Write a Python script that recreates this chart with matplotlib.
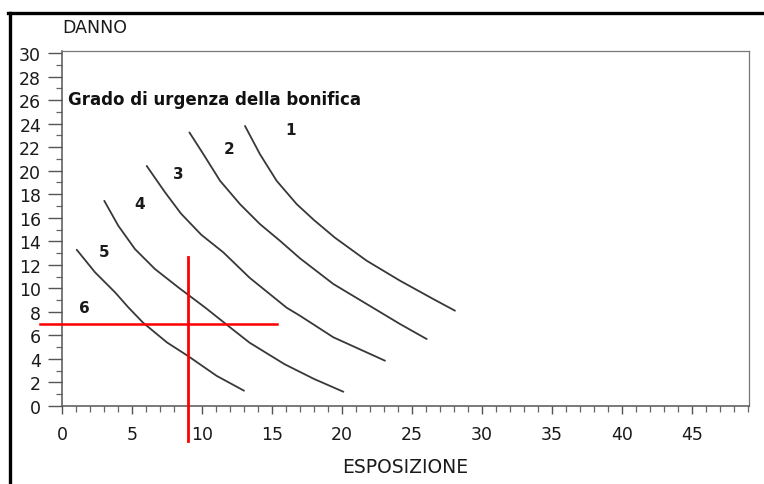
import matplotlib
matplotlib.use("Agg")
import matplotlib.pyplot as plt
from matplotlib.lines import Line2D
from matplotlib.ticker import MultipleLocator

plt.rcParams['font.family'] = ['DejaVu Sans']

# ---- data ----
curve_a_x = [1.05, 2.36, 3.79, 4.74, 5.8, 7.5, 9.0, 11.05, 13.0]
curve_a_y = [13.28, 11.36, 9.66, 8.38, 7.07, 5.4, 4.25, 2.56, 1.3]

curve_b_x = [3.02, 4.02, 5.21, 6.64, 8.31, 10.21, 12.2, 13.4, 15.9, 18.0, 20.1]
curve_b_y = [17.44, 15.32, 13.34, 11.64, 10.08, 8.38, 6.5, 5.38, 3.55, 2.3, 1.21]

curve_c_x = [6.05, 7.36, 8.5, 9.95, 11.52, 13.4, 16.05, 17.0, 19.38, 23.07]
curve_c_y = [20.4, 18.16, 16.35, 14.55, 13.06, 10.9, 8.35, 7.67, 5.84, 3.85]

curve_d_x = [9.1, 10.1, 11.29, 12.71, 14.14, 15.57, 17.0, 19.38, 21.76, 24.14, 26.05]
curve_d_y = [23.25, 21.4, 19.14, 17.16, 15.46, 14.04, 12.55, 10.37, 8.67, 6.97, 5.69]

curve_e_x = [13.07, 14.14, 15.33, 16.76, 18.0, 19.5, 21.76, 24.14, 26.52, 28.07]
curve_e_y = [23.8, 21.4, 19.14, 17.16, 15.8, 14.3, 12.35, 10.65, 9.09, 8.1]

curves = [(curve_a_x, curve_a_y), (curve_b_x, curve_b_y), (curve_c_x, curve_c_y),
          (curve_d_x, curve_d_y), (curve_e_x, curve_e_y)]

zone_labels = ['1', '2', '3', '4', '5', '6']
zone_label_x = [16.3, 11.95, 8.3, 5.57, 3.0, 1.57]
zone_label_y = [23.5, 21.9, 19.8, 17.2, 13.1, 8.4]

# red reference cross
ref_h_y = 7.0
ref_h_x = [-1.57, 15.36]
ref_v_x = 9.0
ref_v_y = [-3.0, 12.7]

x_major_ticks = [0, 5, 10, 15, 20, 25, 30, 35, 40, 45]
y_major_ticks = list(range(0, 31, 2))

title_text = 'Grado di urgenza della bonifica'
x_label = 'ESPOSIZIONE'
y_label = 'DANNO'

# ---- figure ----
W, H = 764, 485
fig = plt.figure(figsize=(W / 100, H / 100), dpi=100)
ax = fig.add_axes([62 / W, 1 - 407 / H, (749 - 62) / W, (407 - 52) / H])
ax.set_xlim(0, 687 / 14)
ax.set_ylim(0, 30.17)

curve_color = '#383838'
for cx, cy in curves:
    ax.plot(cx, cy, color=curve_color, lw=1.3, solid_capstyle='round', solid_joinstyle='round')

for t, lx, ly in zip(zone_labels, zone_label_x, zone_label_y):
    ax.text(lx, ly, t, fontsize=11, fontweight='bold', ha='center', va='center', color='#1a1a1a')

ax.text(0.45, 26.1, title_text, fontsize=12, fontweight='bold', ha='left', va='center', color='#111111')

ax.plot(ref_h_x, [ref_h_y, ref_h_y], color='#ff0000', lw=1.8, clip_on=False, zorder=5)
ax.plot([ref_v_x, ref_v_x], ref_v_y, color='#ff0000', lw=2.0, clip_on=False, zorder=5)

ax.set_xticks(x_major_ticks)
ax.set_yticks(y_major_ticks)
ax.xaxis.set_minor_locator(MultipleLocator(1))
ax.yaxis.set_minor_locator(MultipleLocator(1))
ax.tick_params(axis='x', which='major', length=6, width=1.0, color='#555555', pad=7.5,
               labelsize=12.5, labelcolor='#1a1a1a')
ax.tick_params(axis='x', which='minor', length=4, width=0.9, color='#666666')
ax.tick_params(axis='y', which='major', length=10, width=1.0, color='#555555', pad=5,
               labelsize=12.5, labelcolor='#1a1a1a')
ax.tick_params(axis='y', which='minor', length=4, width=0.9, color='#666666')

for side in ['left', 'bottom']:
    ax.spines[side].set_color('#555555')
    ax.spines[side].set_linewidth(1.1)
for side in ['top', 'right']:
    ax.spines[side].set_color('#777777')
    ax.spines[side].set_linewidth(0.9)

ax.set_xlabel(x_label, fontsize=13.5, color='#1a1a1a', labelpad=10)
fig.text(62 / W, 1 - 28 / H, y_label, fontsize=12.5, ha='left', va='center', color='#1a1a1a')

# black frame lines (top and left)
fig.add_artist(Line2D([8 / W, 1.0], [1 - 14 / H, 1 - 14 / H], color='black', lw=2.4,
                      transform=fig.transFigure))
fig.add_artist(Line2D([9.5 / W, 9.5 / W], [0, 1 - 14 / H], color='black', lw=2.4,
                      transform=fig.transFigure))

fig.savefig('out.png', dpi=100)
